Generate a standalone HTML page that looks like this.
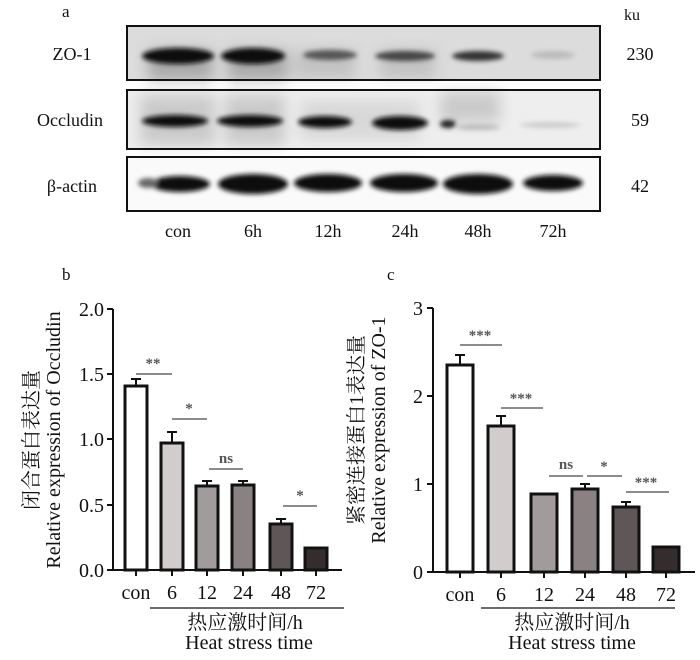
<!DOCTYPE html>
<html><head><meta charset="utf-8"><style>
body{margin:0;background:#fff}
svg{display:block}
text{font-family:"Liberation Serif","Noto Serif CJK SC",serif;fill:#111}
</style></head><body>
<svg width="700" height="660" viewBox="0 0 700 660" xmlns="http://www.w3.org/2000/svg">
<defs>
<filter id="b2" x="-30%" y="-100%" width="160%" height="300%"><feGaussianBlur stdDeviation="2.5"/></filter>
<filter id="b6" x="-30%" y="-100%" width="160%" height="300%"><feGaussianBlur stdDeviation="7"/></filter>
</defs>
<text x="62" y="17" font-size="17">a</text>
<text x="624" y="20" font-size="16">ku</text>
<text x="72" y="60" font-size="18" text-anchor="middle">ZO-1</text>
<text x="70" y="126" font-size="18" text-anchor="middle">Occludin</text>
<text x="72" y="192" font-size="18" text-anchor="middle">β-actin</text>
<text x="640" y="60" font-size="18" text-anchor="middle">230</text>
<text x="640" y="126" font-size="18" text-anchor="middle">59</text>
<text x="640" y="192" font-size="18" text-anchor="middle">42</text>
<!-- ZO-1 -->
<rect x="127" y="26" width="473" height="54" fill="#dcdcdc"/>
<g filter="url(#b6)" fill="#888" opacity="0.6"><rect x="148" y="50" width="65" height="30"/><rect x="228" y="50" width="60" height="30"/><rect x="295" y="50" width="60" height="28" opacity="0.5"/><rect x="380" y="50" width="55" height="28" opacity="0.5"/></g>
<g filter="url(#b2)">
<ellipse cx="178" cy="56" rx="36" ry="8" fill="#111"/>
<ellipse cx="253" cy="56" rx="32" ry="8" fill="#111"/>
<ellipse cx="330" cy="55" rx="27" ry="5" fill="#555"/>
<ellipse cx="405" cy="56" rx="30" ry="5" fill="#444"/>
<ellipse cx="478" cy="56" rx="26" ry="5" fill="#333"/>
<ellipse cx="553" cy="55" rx="22" ry="4" fill="#bbb"/>
</g>
<rect x="127" y="26" width="473" height="54" fill="none" stroke="#111" stroke-width="2"/>
<!-- Occludin -->
<rect x="127" y="90" width="473" height="59" fill="#eeeeee"/>
<g filter="url(#b6)" fill="#bbb" opacity="0.7"><rect x="140" y="95" width="75" height="50"/><rect x="225" y="95" width="60" height="50"/><rect x="300" y="100" width="120" height="40" opacity="0.6"/><rect x="440" y="92" width="60" height="30"/></g>
<g filter="url(#b2)">
<ellipse cx="175" cy="121" rx="33" ry="6" fill="#111"/>
<ellipse cx="250" cy="121" rx="33" ry="6" fill="#111"/>
<ellipse cx="325" cy="122" rx="27" ry="6" fill="#111"/>
<ellipse cx="400" cy="123" rx="28" ry="7" fill="#111"/>
<ellipse cx="448" cy="124" rx="8" ry="4" fill="#222"/>
<ellipse cx="478" cy="127" rx="22" ry="3" fill="#bbb"/>
<ellipse cx="550" cy="125" rx="30" ry="3" fill="#ccc"/>
</g>
<rect x="127" y="90" width="473" height="59" fill="none" stroke="#111" stroke-width="2"/>
<!-- actin -->
<rect x="127" y="157" width="473" height="54" fill="#fafafa"/>
<g filter="url(#b2)" fill="#111">
<ellipse cx="180" cy="184" rx="30" ry="8"/><ellipse cx="148" cy="183" rx="10" ry="5" fill="#666"/>
<ellipse cx="253" cy="184" rx="35" ry="10"/>
<ellipse cx="328" cy="183" rx="34" ry="9"/>
<ellipse cx="404" cy="183" rx="34" ry="9"/>
<ellipse cx="478" cy="184" rx="35" ry="10"/>
<ellipse cx="553" cy="183" rx="30" ry="8"/>
</g>
<rect x="127" y="157" width="473" height="54" fill="none" stroke="#111" stroke-width="2"/>
<g font-size="18" text-anchor="middle">
<text x="178" y="237">con</text><text x="253" y="237">6h</text><text x="328" y="237">12h</text><text x="405" y="237">24h</text><text x="478" y="237">48h</text><text x="553" y="237">72h</text></g>

<!-- chart b -->
<text x="62" y="280" font-size="17">b</text>
<g stroke="#111" stroke-width="2" fill="none">
<path d="M113 309V570H342"/>
<path d="M107 309H113M107 374H113M107 439H113M107 505H113M107 570H113"/>
<path d="M136 570v6M172 570v6M207 570v6M243 570v6M281 570v6M316 570v6"/>
</g>
<g font-size="20" text-anchor="end"><text x="104" y="316">2.0</text><text x="104" y="381">1.5</text><text x="104" y="446">1.0</text><text x="104" y="512">0.5</text><text x="104" y="577">0.0</text></g>
<g stroke="#111" stroke-width="3">
<rect x="125" y="386" width="22" height="184" fill="#fff"/>
<rect x="161" y="443" width="22" height="127" fill="#d2cccc"/>
<rect x="196" y="486" width="22" height="84" fill="#a29b9b"/>
<rect x="232" y="485" width="22" height="85" fill="#8a8282"/>
<rect x="270" y="524" width="22" height="46" fill="#5f5757"/>
<rect x="305" y="548" width="22" height="22" fill="#352d2d"/>
</g>
<g stroke="#111" stroke-width="2"><path d="M136 386V379M131 379H141M172 443V432M167 432H177M207 486V481M202 481H212M243 485V481M238 481H248M281 524V519M276 519H286M316 548V547"/></g>
<g stroke="#666" stroke-width="1.5"><path d="M136 374H172M172 419H207M209 469H243M283 506H317"/></g>
<g font-size="15" text-anchor="middle" font-weight="bold"><text x="153" y="368" style="fill:#555">**</text><text x="189" y="413" style="fill:#555">*</text><text x="226" y="463" style="fill:#555">ns</text><text x="300" y="500" style="fill:#555">*</text></g>
<g font-size="20" text-anchor="middle"><text x="136" y="599">con</text><text x="172" y="599">6</text><text x="207" y="599">12</text><text x="243" y="599">24</text><text x="281" y="599">48</text><text x="316" y="599">72</text>
<text x="245" y="629">热应激时间/h</text><text x="249" y="649">Heat stress time</text></g>
<path d="M150 608H344" stroke="#111" stroke-width="1.2"/>
<text transform="translate(38 440) rotate(-90)" font-size="20" text-anchor="middle">闭合蛋白表达量</text>
<text transform="translate(60 440) rotate(-90)" font-size="20" text-anchor="middle">Relative expression of Occludin</text>

<!-- chart c -->
<text x="387" y="280" font-size="17">c</text>
<g stroke="#111" stroke-width="2" fill="none">
<path d="M433 308V572H695"/>
<path d="M427 308H433M427 396H433M427 484H433M427 572H433"/>
<path d="M460 572v6M501 572v6M544 572v6M585 572v6M626 572v6M666 572v6"/>
</g>
<g font-size="20" text-anchor="end"><text x="423" y="315">3</text><text x="423" y="403">2</text><text x="423" y="491">1</text><text x="423" y="579">0</text></g>
<g stroke="#111" stroke-width="3">
<rect x="447" y="365" width="26" height="207" fill="#fff"/>
<rect x="488" y="426" width="26" height="146" fill="#d2cccc"/>
<rect x="531" y="494" width="26" height="78" fill="#a29b9b"/>
<rect x="572" y="489" width="26" height="83" fill="#8a8282"/>
<rect x="613" y="507" width="26" height="65" fill="#5f5757"/>
<rect x="653" y="547" width="26" height="25" fill="#352d2d"/>
</g>
<g stroke="#111" stroke-width="2"><path d="M460 365V355M455 355H465M501 426V416M496 416H506M585 489V484M580 484H590M626 507V502M621 502H631"/></g>
<g stroke="#666" stroke-width="1.5"><path d="M460 345H502M501 408H543M549 476H583M587 476H622M626 492H669"/></g>
<g font-size="15" text-anchor="middle" font-weight="bold"><text x="480" y="340" style="fill:#555">***</text><text x="521" y="403" style="fill:#555">***</text><text x="566" y="469" style="fill:#555">ns</text><text x="604" y="471" style="fill:#555">*</text><text x="646" y="487" style="fill:#555">***</text></g>
<g font-size="20" text-anchor="middle"><text x="460" y="601">con</text><text x="501" y="601">6</text><text x="544" y="601">12</text><text x="585" y="601">24</text><text x="626" y="601">48</text><text x="666" y="601">72</text>
<text x="572" y="629">热应激时间/h</text><text x="572" y="649">Heat stress time</text></g>
<path d="M481 608H675" stroke="#111" stroke-width="1.2"/>
<text transform="translate(363 430) rotate(-90)" font-size="20" text-anchor="middle">紧密连接蛋白1表达量</text>
<text transform="translate(385 430) rotate(-90)" font-size="20" text-anchor="middle">Relative expression of ZO-1</text>
</svg>
</body></html>
